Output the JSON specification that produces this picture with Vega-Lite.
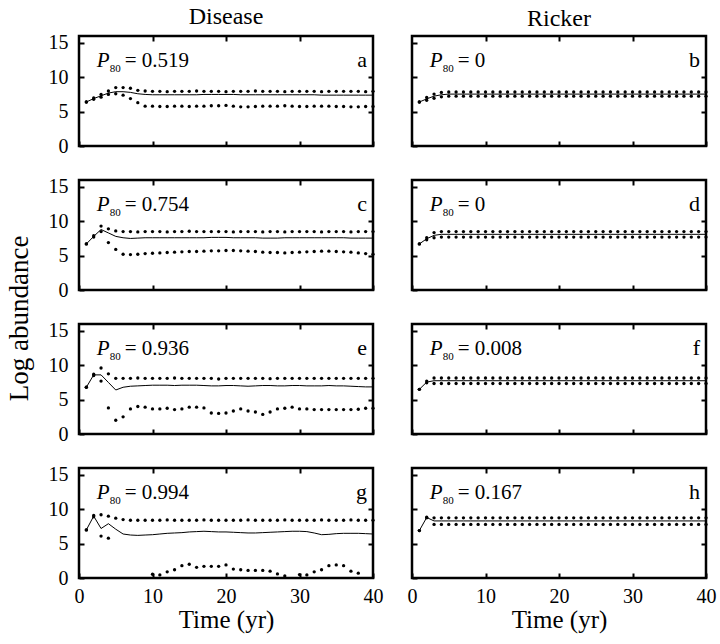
{
  "$schema": "https://vega.github.io/schema/vega-lite/v6.json",
  "background": "white",
  "padding": {"left": 5, "top": 3, "right": 5, "bottom": 3},
  "title": {"text": "Log abundance", "orient": "left", "anchor": "middle", "font": "Times New Roman, Liberation Serif, serif", "fontSize": 27, "fontWeight": "normal", "offset": 13},
  "config": {
    "font": "Times New Roman, Liberation Serif, serif",
    "view": {"stroke": "black", "strokeWidth": 2.5},
    "title": {"font": "Times New Roman, Liberation Serif, serif", "fontWeight": "normal", "fontSize": 24, "color": "black"},
    "axis": {
      "domain": false, "grid": false, "ticks": true, "tickSize": -5, "tickWidth": 2, "tickColor": "black",
      "labelFont": "Times New Roman, Liberation Serif, serif", "labelFontSize": 20, "labelColor": "black", "labelFlush": false, "labelOverlap": false,
      "titleFont": "Times New Roman, Liberation Serif, serif", "titleFontSize": 25, "titleFontWeight": "normal", "titleColor": "black", "titlePadding": 1
    },
    "axisX": {"labelPadding": 13},
    "axisY": {"labelPadding": 16},
    "line": {"color": "black", "strokeWidth": 1},
    "circle": {"color": "black", "size": 11, "opacity": 1},
    "text": {"font": "Times New Roman, Liberation Serif, serif", "color": "black", "baseline": "alphabetic", "fontSize": 21}
  },
  "datasets": {
    "notes": [
      {"p": "a", "pv": "= 0.519"}, {"p": "b", "pv": "= 0"},
      {"p": "c", "pv": "= 0.754"}, {"p": "d", "pv": "= 0"},
      {"p": "e", "pv": "= 0.936"}, {"p": "f", "pv": "= 0.008"},
      {"p": "g", "pv": "= 0.994"}, {"p": "h", "pv": "= 0.167"}
    ],
    "series": [
      {"p":"a","t":1,"m":6.4,"h":6.4,"l":6.4},{"p":"a","t":2,"m":6.9,"h":7.0,"l":6.8},{"p":"a","t":3,"m":7.3,"h":7.5,"l":7.1},{"p":"a","t":4,"m":7.7,"h":8.0,"l":7.5},
      {"p":"a","t":5,"m":7.9,"h":8.5,"l":7.6},{"p":"a","t":6,"m":7.9,"h":8.5,"l":7.4},{"p":"a","t":7,"m":7.8,"h":8.4,"l":6.9},{"p":"a","t":8,"m":7.6,"h":8.1,"l":6.3},
      {"p":"a","t":9,"m":7.5,"h":8.0,"l":5.8},{"p":"a","t":10,"m":7.45,"h":7.95,"l":5.8},{"p":"a","t":11,"m":7.45,"h":7.95,"l":5.75},{"p":"a","t":12,"m":7.45,"h":7.9,"l":5.75},
      {"p":"a","t":13,"m":7.45,"h":7.95,"l":5.8},{"p":"a","t":14,"m":7.45,"h":7.95,"l":5.8},{"p":"a","t":15,"m":7.45,"h":7.95,"l":5.75},{"p":"a","t":16,"m":7.45,"h":8.0,"l":5.8},
      {"p":"a","t":17,"m":7.5,"h":7.95,"l":5.8},{"p":"a","t":18,"m":7.5,"h":7.95,"l":5.85},{"p":"a","t":19,"m":7.5,"h":7.95,"l":5.85},{"p":"a","t":20,"m":7.5,"h":7.9,"l":5.9},
      {"p":"a","t":21,"m":7.5,"h":7.95,"l":5.8},{"p":"a","t":22,"m":7.45,"h":7.95,"l":5.7},{"p":"a","t":23,"m":7.45,"h":7.95,"l":5.7},{"p":"a","t":24,"m":7.45,"h":8.0,"l":5.75},
      {"p":"a","t":25,"m":7.45,"h":7.95,"l":5.8},{"p":"a","t":26,"m":7.45,"h":7.95,"l":5.8},{"p":"a","t":27,"m":7.45,"h":7.95,"l":5.8},{"p":"a","t":28,"m":7.45,"h":7.9,"l":5.85},
      {"p":"a","t":29,"m":7.45,"h":7.95,"l":5.8},{"p":"a","t":30,"m":7.45,"h":7.95,"l":5.75},{"p":"a","t":31,"m":7.45,"h":7.95,"l":5.75},{"p":"a","t":32,"m":7.45,"h":7.95,"l":5.8},
      {"p":"a","t":33,"m":7.4,"h":7.9,"l":5.8},{"p":"a","t":34,"m":7.4,"h":7.95,"l":5.8},{"p":"a","t":35,"m":7.4,"h":7.95,"l":5.75},{"p":"a","t":36,"m":7.4,"h":7.95,"l":5.75},
      {"p":"a","t":37,"m":7.4,"h":7.95,"l":5.7},{"p":"a","t":38,"m":7.4,"h":7.95,"l":5.7},{"p":"a","t":39,"m":7.4,"h":7.9,"l":5.75},{"p":"a","t":40,"m":7.4,"h":7.95,"l":5.75},

      {"p":"c","t":1,"m":6.7,"h":6.7,"l":6.7},{"p":"c","t":2,"m":7.8,"h":7.9,"l":7.7},{"p":"c","t":3,"m":8.8,"h":9.3,"l":8.5},{"p":"c","t":4,"m":8.3,"h":8.9,"l":6.9},
      {"p":"c","t":5,"m":7.8,"h":8.6,"l":5.9},{"p":"c","t":6,"m":7.6,"h":8.5,"l":5.2},{"p":"c","t":7,"m":7.5,"h":8.5,"l":5.15},{"p":"c","t":8,"m":7.55,"h":8.45,"l":5.2},
      {"p":"c","t":9,"m":7.6,"h":8.5,"l":5.3},{"p":"c","t":10,"m":7.6,"h":8.5,"l":5.35},{"p":"c","t":11,"m":7.6,"h":8.5,"l":5.4},{"p":"c","t":12,"m":7.6,"h":8.45,"l":5.45},
      {"p":"c","t":13,"m":7.6,"h":8.5,"l":5.5},{"p":"c","t":14,"m":7.6,"h":8.5,"l":5.55},{"p":"c","t":15,"m":7.6,"h":8.55,"l":5.6},{"p":"c","t":16,"m":7.6,"h":8.5,"l":5.6},
      {"p":"c","t":17,"m":7.6,"h":8.5,"l":5.65},{"p":"c","t":18,"m":7.65,"h":8.5,"l":5.7},{"p":"c","t":19,"m":7.65,"h":8.5,"l":5.7},{"p":"c","t":20,"m":7.65,"h":8.5,"l":5.75},
      {"p":"c","t":21,"m":7.6,"h":8.45,"l":5.75},{"p":"c","t":22,"m":7.6,"h":8.5,"l":5.7},{"p":"c","t":23,"m":7.6,"h":8.5,"l":5.65},{"p":"c","t":24,"m":7.6,"h":8.5,"l":5.6},
      {"p":"c","t":25,"m":7.55,"h":8.45,"l":5.5},{"p":"c","t":26,"m":7.55,"h":8.5,"l":5.45},{"p":"c","t":27,"m":7.55,"h":8.5,"l":5.45},{"p":"c","t":28,"m":7.6,"h":8.45,"l":5.4},
      {"p":"c","t":29,"m":7.6,"h":8.5,"l":5.45},{"p":"c","t":30,"m":7.6,"h":8.5,"l":5.5},{"p":"c","t":31,"m":7.6,"h":8.5,"l":5.55},{"p":"c","t":32,"m":7.6,"h":8.5,"l":5.6},
      {"p":"c","t":33,"m":7.6,"h":8.45,"l":5.65},{"p":"c","t":34,"m":7.6,"h":8.5,"l":5.65},{"p":"c","t":35,"m":7.6,"h":8.5,"l":5.6},{"p":"c","t":36,"m":7.6,"h":8.5,"l":5.55},
      {"p":"c","t":37,"m":7.55,"h":8.45,"l":5.5},{"p":"c","t":38,"m":7.55,"h":8.5,"l":5.4},{"p":"c","t":39,"m":7.55,"h":8.5,"l":5.3},{"p":"c","t":40,"m":7.55,"h":8.5,"l":5.2},

      {"p":"e","t":1,"m":6.8,"h":6.8,"l":6.8},{"p":"e","t":2,"m":8.6,"h":8.7,"l":8.5},{"p":"e","t":3,"m":8.6,"h":9.6,"l":7.7},{"p":"e","t":4,"m":7.5,"h":8.75,"l":3.8},
      {"p":"e","t":5,"m":6.4,"h":8.1,"l":2.0},{"p":"e","t":6,"m":6.8,"h":8.1,"l":2.5},{"p":"e","t":7,"m":6.95,"h":8.1,"l":3.65},{"p":"e","t":8,"m":7.0,"h":8.15,"l":4.0},
      {"p":"e","t":9,"m":7.05,"h":8.1,"l":3.9},{"p":"e","t":10,"m":7.1,"h":8.1,"l":3.65},{"p":"e","t":11,"m":7.1,"h":8.1,"l":3.65},{"p":"e","t":12,"m":7.1,"h":8.1,"l":3.75},
      {"p":"e","t":13,"m":7.05,"h":8.15,"l":3.55},{"p":"e","t":14,"m":7.1,"h":8.1,"l":3.65},{"p":"e","t":15,"m":7.1,"h":8.1,"l":3.9},{"p":"e","t":16,"m":7.1,"h":8.1,"l":3.9},
      {"p":"e","t":17,"m":7.05,"h":8.1,"l":3.8},{"p":"e","t":18,"m":7.0,"h":8.1,"l":3.05},{"p":"e","t":19,"m":7.0,"h":8.0,"l":3.0},{"p":"e","t":20,"m":7.05,"h":8.1,"l":3.05},
      {"p":"e","t":21,"m":7.05,"h":8.1,"l":3.35},{"p":"e","t":22,"m":7.0,"h":8.1,"l":3.65},{"p":"e","t":23,"m":6.95,"h":8.1,"l":3.35},{"p":"e","t":24,"m":7.0,"h":8.1,"l":3.2},
      {"p":"e","t":25,"m":7.05,"h":8.1,"l":2.85},{"p":"e","t":26,"m":7.05,"h":8.05,"l":3.2},{"p":"e","t":27,"m":7.0,"h":8.1,"l":3.65},{"p":"e","t":28,"m":7.0,"h":8.1,"l":3.75},
      {"p":"e","t":29,"m":7.05,"h":8.1,"l":3.9},{"p":"e","t":30,"m":7.05,"h":8.1,"l":3.65},{"p":"e","t":31,"m":7.0,"h":8.1,"l":3.65},{"p":"e","t":32,"m":7.0,"h":8.1,"l":3.55},
      {"p":"e","t":33,"m":7.0,"h":8.1,"l":3.55},{"p":"e","t":34,"m":7.05,"h":8.1,"l":3.55},{"p":"e","t":35,"m":7.0,"h":8.1,"l":3.55},{"p":"e","t":36,"m":7.0,"h":8.1,"l":3.55},
      {"p":"e","t":37,"m":6.95,"h":8.1,"l":3.55},{"p":"e","t":38,"m":6.9,"h":8.1,"l":3.6},{"p":"e","t":39,"m":6.85,"h":8.1,"l":3.75},{"p":"e","t":40,"m":6.85,"h":8.1,"l":3.75},

      {"p":"g","t":1,"m":7.0,"h":7.0,"l":7.0},{"p":"g","t":2,"m":9.0,"h":9.1,"l":8.9},{"p":"g","t":3,"m":7.2,"h":9.2,"l":6.1},{"p":"g","t":4,"m":7.9,"h":9.0,"l":5.8},
      {"p":"g","t":5,"m":7.1,"h":8.7,"l":null},{"p":"g","t":6,"m":6.4,"h":8.5,"l":null},{"p":"g","t":7,"m":6.25,"h":8.4,"l":null},{"p":"g","t":8,"m":6.2,"h":8.4,"l":null},
      {"p":"g","t":9,"m":6.25,"h":8.4,"l":null},{"p":"g","t":10,"m":6.3,"h":8.4,"l":0.55},{"p":"g","t":11,"m":6.4,"h":8.4,"l":0.45},{"p":"g","t":12,"m":6.5,"h":8.45,"l":0.9},
      {"p":"g","t":13,"m":6.55,"h":8.4,"l":1.2},{"p":"g","t":14,"m":6.6,"h":8.4,"l":1.8},{"p":"g","t":15,"m":6.7,"h":8.4,"l":2.0},{"p":"g","t":16,"m":6.75,"h":8.4,"l":1.55},
      {"p":"g","t":17,"m":6.8,"h":8.45,"l":1.7},{"p":"g","t":18,"m":6.75,"h":8.4,"l":1.7},{"p":"g","t":19,"m":6.7,"h":8.4,"l":1.7},{"p":"g","t":20,"m":6.7,"h":8.4,"l":1.9},
      {"p":"g","t":21,"m":6.65,"h":8.4,"l":1.3},{"p":"g","t":22,"m":6.6,"h":8.4,"l":1.2},{"p":"g","t":23,"m":6.55,"h":8.45,"l":1.1},{"p":"g","t":24,"m":6.55,"h":8.4,"l":1.1},
      {"p":"g","t":25,"m":6.6,"h":8.4,"l":1.1},{"p":"g","t":26,"m":6.65,"h":8.4,"l":1.0},{"p":"g","t":27,"m":6.7,"h":8.4,"l":0.6},{"p":"g","t":28,"m":6.75,"h":8.45,"l":0.3},
      {"p":"g","t":29,"m":6.8,"h":8.4,"l":null},{"p":"g","t":30,"m":6.8,"h":8.4,"l":0.5},{"p":"g","t":31,"m":6.75,"h":8.4,"l":0.45},{"p":"g","t":32,"m":6.55,"h":8.4,"l":0.9},
      {"p":"g","t":33,"m":6.3,"h":8.45,"l":1.2},{"p":"g","t":34,"m":6.35,"h":8.4,"l":1.8},{"p":"g","t":35,"m":6.45,"h":8.4,"l":1.9},{"p":"g","t":36,"m":6.5,"h":8.4,"l":1.8},
      {"p":"g","t":37,"m":6.5,"h":8.45,"l":1.0},{"p":"g","t":38,"m":6.5,"h":8.4,"l":0.7},{"p":"g","t":39,"m":6.45,"h":8.4,"l":null},{"p":"g","t":40,"m":6.4,"h":8.4,"l":null},

      {"p":"b","t":1,"m":6.4,"h":6.4,"l":6.4},{"p":"b","t":2,"m":6.85,"h":7.05,"l":6.65},{"p":"b","t":3,"m":7.25,"h":7.55,"l":6.95},{"p":"b","t":4,"m":7.45,"h":7.8,"l":7.15},
      {"p":"b","t":5,"m":7.55,"h":7.85,"l":7.25},{"p":"b","t":6,"m":7.55,"h":7.85,"l":7.25},{"p":"b","t":7,"m":7.55,"h":7.85,"l":7.25},{"p":"b","t":8,"m":7.55,"h":7.85,"l":7.25},
      {"p":"b","t":9,"m":7.55,"h":7.85,"l":7.25},{"p":"b","t":10,"m":7.55,"h":7.85,"l":7.25},{"p":"b","t":11,"m":7.55,"h":7.85,"l":7.25},{"p":"b","t":12,"m":7.55,"h":7.85,"l":7.25},
      {"p":"b","t":13,"m":7.55,"h":7.85,"l":7.25},{"p":"b","t":14,"m":7.55,"h":7.85,"l":7.25},{"p":"b","t":15,"m":7.55,"h":7.85,"l":7.25},{"p":"b","t":16,"m":7.55,"h":7.85,"l":7.25},
      {"p":"b","t":17,"m":7.55,"h":7.85,"l":7.25},{"p":"b","t":18,"m":7.55,"h":7.85,"l":7.25},{"p":"b","t":19,"m":7.55,"h":7.85,"l":7.25},{"p":"b","t":20,"m":7.55,"h":7.85,"l":7.25},
      {"p":"b","t":21,"m":7.55,"h":7.85,"l":7.25},{"p":"b","t":22,"m":7.55,"h":7.85,"l":7.25},{"p":"b","t":23,"m":7.55,"h":7.85,"l":7.25},{"p":"b","t":24,"m":7.55,"h":7.85,"l":7.25},
      {"p":"b","t":25,"m":7.55,"h":7.85,"l":7.25},{"p":"b","t":26,"m":7.55,"h":7.85,"l":7.25},{"p":"b","t":27,"m":7.55,"h":7.85,"l":7.25},{"p":"b","t":28,"m":7.55,"h":7.85,"l":7.25},
      {"p":"b","t":29,"m":7.55,"h":7.85,"l":7.25},{"p":"b","t":30,"m":7.55,"h":7.85,"l":7.25},{"p":"b","t":31,"m":7.55,"h":7.85,"l":7.25},{"p":"b","t":32,"m":7.55,"h":7.85,"l":7.25},
      {"p":"b","t":33,"m":7.55,"h":7.85,"l":7.25},{"p":"b","t":34,"m":7.55,"h":7.85,"l":7.25},{"p":"b","t":35,"m":7.55,"h":7.85,"l":7.25},{"p":"b","t":36,"m":7.55,"h":7.85,"l":7.25},
      {"p":"b","t":37,"m":7.55,"h":7.85,"l":7.25},{"p":"b","t":38,"m":7.55,"h":7.85,"l":7.25},{"p":"b","t":39,"m":7.55,"h":7.85,"l":7.25},{"p":"b","t":40,"m":7.55,"h":7.85,"l":7.25},

      {"p":"d","t":1,"m":6.7,"h":6.7,"l":6.7},{"p":"d","t":2,"m":7.45,"h":7.6,"l":7.3},{"p":"d","t":3,"m":7.95,"h":8.35,"l":7.6},{"p":"d","t":4,"m":8.1,"h":8.5,"l":7.7},
      {"p":"d","t":5,"m":8.1,"h":8.5,"l":7.7},{"p":"d","t":6,"m":8.1,"h":8.5,"l":7.7},{"p":"d","t":7,"m":8.1,"h":8.5,"l":7.7},{"p":"d","t":8,"m":8.1,"h":8.5,"l":7.7},
      {"p":"d","t":9,"m":8.1,"h":8.5,"l":7.7},{"p":"d","t":10,"m":8.1,"h":8.5,"l":7.7},{"p":"d","t":11,"m":8.1,"h":8.5,"l":7.7},{"p":"d","t":12,"m":8.1,"h":8.5,"l":7.7},
      {"p":"d","t":13,"m":8.1,"h":8.5,"l":7.7},{"p":"d","t":14,"m":8.1,"h":8.5,"l":7.7},{"p":"d","t":15,"m":8.1,"h":8.5,"l":7.7},{"p":"d","t":16,"m":8.1,"h":8.5,"l":7.7},
      {"p":"d","t":17,"m":8.1,"h":8.5,"l":7.7},{"p":"d","t":18,"m":8.1,"h":8.5,"l":7.7},{"p":"d","t":19,"m":8.1,"h":8.5,"l":7.7},{"p":"d","t":20,"m":8.1,"h":8.5,"l":7.7},
      {"p":"d","t":21,"m":8.1,"h":8.5,"l":7.7},{"p":"d","t":22,"m":8.1,"h":8.5,"l":7.7},{"p":"d","t":23,"m":8.1,"h":8.5,"l":7.7},{"p":"d","t":24,"m":8.1,"h":8.5,"l":7.7},
      {"p":"d","t":25,"m":8.1,"h":8.5,"l":7.7},{"p":"d","t":26,"m":8.1,"h":8.5,"l":7.7},{"p":"d","t":27,"m":8.1,"h":8.5,"l":7.7},{"p":"d","t":28,"m":8.1,"h":8.5,"l":7.7},
      {"p":"d","t":29,"m":8.1,"h":8.5,"l":7.7},{"p":"d","t":30,"m":8.1,"h":8.5,"l":7.7},{"p":"d","t":31,"m":8.1,"h":8.5,"l":7.7},{"p":"d","t":32,"m":8.1,"h":8.5,"l":7.7},
      {"p":"d","t":33,"m":8.1,"h":8.5,"l":7.7},{"p":"d","t":34,"m":8.1,"h":8.5,"l":7.7},{"p":"d","t":35,"m":8.1,"h":8.5,"l":7.7},{"p":"d","t":36,"m":8.1,"h":8.5,"l":7.7},
      {"p":"d","t":37,"m":8.1,"h":8.5,"l":7.7},{"p":"d","t":38,"m":8.1,"h":8.5,"l":7.7},{"p":"d","t":39,"m":8.1,"h":8.5,"l":7.7},{"p":"d","t":40,"m":8.1,"h":8.5,"l":7.7},

      {"p":"f","t":1,"m":6.5,"h":6.5,"l":6.5},{"p":"f","t":2,"m":7.55,"h":7.7,"l":7.45},{"p":"f","t":3,"m":7.75,"h":8.15,"l":7.35},{"p":"f","t":4,"m":7.75,"h":8.15,"l":7.35},
      {"p":"f","t":5,"m":7.75,"h":8.15,"l":7.35},{"p":"f","t":6,"m":7.75,"h":8.15,"l":7.35},{"p":"f","t":7,"m":7.75,"h":8.15,"l":7.35},{"p":"f","t":8,"m":7.75,"h":8.15,"l":7.35},
      {"p":"f","t":9,"m":7.75,"h":8.15,"l":7.35},{"p":"f","t":10,"m":7.75,"h":8.15,"l":7.35},{"p":"f","t":11,"m":7.75,"h":8.15,"l":7.35},{"p":"f","t":12,"m":7.75,"h":8.15,"l":7.35},
      {"p":"f","t":13,"m":7.75,"h":8.15,"l":7.35},{"p":"f","t":14,"m":7.75,"h":8.15,"l":7.35},{"p":"f","t":15,"m":7.75,"h":8.15,"l":7.35},{"p":"f","t":16,"m":7.75,"h":8.15,"l":7.35},
      {"p":"f","t":17,"m":7.75,"h":8.15,"l":7.35},{"p":"f","t":18,"m":7.75,"h":8.15,"l":7.35},{"p":"f","t":19,"m":7.75,"h":8.15,"l":7.35},{"p":"f","t":20,"m":7.75,"h":8.15,"l":7.35},
      {"p":"f","t":21,"m":7.75,"h":8.15,"l":7.35},{"p":"f","t":22,"m":7.75,"h":8.15,"l":7.35},{"p":"f","t":23,"m":7.75,"h":8.15,"l":7.35},{"p":"f","t":24,"m":7.75,"h":8.15,"l":7.35},
      {"p":"f","t":25,"m":7.75,"h":8.15,"l":7.35},{"p":"f","t":26,"m":7.75,"h":8.15,"l":7.35},{"p":"f","t":27,"m":7.75,"h":8.15,"l":7.35},{"p":"f","t":28,"m":7.75,"h":8.15,"l":7.35},
      {"p":"f","t":29,"m":7.75,"h":8.15,"l":7.35},{"p":"f","t":30,"m":7.75,"h":8.15,"l":7.35},{"p":"f","t":31,"m":7.75,"h":8.15,"l":7.35},{"p":"f","t":32,"m":7.75,"h":8.15,"l":7.35},
      {"p":"f","t":33,"m":7.75,"h":8.15,"l":7.35},{"p":"f","t":34,"m":7.75,"h":8.15,"l":7.35},{"p":"f","t":35,"m":7.75,"h":8.15,"l":7.35},{"p":"f","t":36,"m":7.75,"h":8.15,"l":7.35},
      {"p":"f","t":37,"m":7.75,"h":8.15,"l":7.35},{"p":"f","t":38,"m":7.75,"h":8.15,"l":7.35},{"p":"f","t":39,"m":7.75,"h":8.15,"l":7.35},{"p":"f","t":40,"m":7.75,"h":8.15,"l":7.35},

      {"p":"h","t":1,"m":6.9,"h":6.9,"l":6.9},{"p":"h","t":2,"m":8.8,"h":8.85,"l":8.75},{"p":"h","t":3,"m":8.3,"h":8.75,"l":7.8},{"p":"h","t":4,"m":8.3,"h":8.75,"l":7.8},
      {"p":"h","t":5,"m":8.3,"h":8.75,"l":7.8},{"p":"h","t":6,"m":8.3,"h":8.75,"l":7.8},{"p":"h","t":7,"m":8.3,"h":8.75,"l":7.8},{"p":"h","t":8,"m":8.3,"h":8.75,"l":7.8},
      {"p":"h","t":9,"m":8.3,"h":8.75,"l":7.8},{"p":"h","t":10,"m":8.3,"h":8.75,"l":7.8},{"p":"h","t":11,"m":8.3,"h":8.75,"l":7.8},{"p":"h","t":12,"m":8.3,"h":8.75,"l":7.8},
      {"p":"h","t":13,"m":8.3,"h":8.75,"l":7.8},{"p":"h","t":14,"m":8.3,"h":8.75,"l":7.8},{"p":"h","t":15,"m":8.3,"h":8.75,"l":7.8},{"p":"h","t":16,"m":8.3,"h":8.75,"l":7.8},
      {"p":"h","t":17,"m":8.3,"h":8.75,"l":7.8},{"p":"h","t":18,"m":8.3,"h":8.75,"l":7.8},{"p":"h","t":19,"m":8.3,"h":8.75,"l":7.8},{"p":"h","t":20,"m":8.3,"h":8.75,"l":7.8},
      {"p":"h","t":21,"m":8.3,"h":8.75,"l":7.8},{"p":"h","t":22,"m":8.3,"h":8.75,"l":7.8},{"p":"h","t":23,"m":8.3,"h":8.75,"l":7.8},{"p":"h","t":24,"m":8.3,"h":8.75,"l":7.8},
      {"p":"h","t":25,"m":8.3,"h":8.75,"l":7.8},{"p":"h","t":26,"m":8.3,"h":8.75,"l":7.8},{"p":"h","t":27,"m":8.3,"h":8.75,"l":7.8},{"p":"h","t":28,"m":8.3,"h":8.75,"l":7.8},
      {"p":"h","t":29,"m":8.3,"h":8.75,"l":7.8},{"p":"h","t":30,"m":8.3,"h":8.75,"l":7.8},{"p":"h","t":31,"m":8.3,"h":8.75,"l":7.8},{"p":"h","t":32,"m":8.3,"h":8.75,"l":7.8},
      {"p":"h","t":33,"m":8.3,"h":8.75,"l":7.8},{"p":"h","t":34,"m":8.3,"h":8.75,"l":7.8},{"p":"h","t":35,"m":8.3,"h":8.75,"l":7.8},{"p":"h","t":36,"m":8.3,"h":8.75,"l":7.8},
      {"p":"h","t":37,"m":8.3,"h":8.75,"l":7.8},{"p":"h","t":38,"m":8.3,"h":8.75,"l":7.8},{"p":"h","t":39,"m":8.3,"h":8.75,"l":7.8},{"p":"h","t":40,"m":8.3,"h":8.75,"l":7.8}
    ]
  },
  "spacing": 17,
  "vconcat": [
    {"bounds": "flush", "spacing": 39, "hconcat": [
      {"width": 294, "height": 110, "title": {"text": "Disease", "anchor": "middle", "offset": 4},
       "resolve": {"axis": {"x": "independent", "y": "independent"}},
       "layer": [
        {"data": {"name": "series"}, "transform": [{"filter": "datum.p === 'a'"}], "mark": "line",
         "encoding": {"x": {"field": "t", "type": "quantitative", "scale": {"domain": [0, 40]}, "axis": {"orient": "bottom", "values": [0, 10, 20, 30, 40], "labels": false, "title": null}},
                      "y": {"field": "m", "type": "quantitative", "scale": {"domain": [0, 15]}, "axis": {"orient": "left", "values": [0, 5, 10, 15], "labels": true, "title": null}}}},
        {"data": {"name": "series"}, "transform": [{"filter": "datum.p === 'a'"}, {"fold": ["h", "l"], "as": ["bound", "v"]}], "mark": "circle",
         "encoding": {"x": {"field": "t", "type": "quantitative", "axis": {"orient": "top", "values": [10, 20, 30], "labels": false, "title": null}},
                      "y": {"field": "v", "type": "quantitative", "axis": {"orient": "right", "values": [5, 10], "labels": false, "title": null}}}},
        {"data": {"name": "notes"}, "transform": [{"filter": "datum.p === 'a'"}], "mark": {"type": "text", "text": "P", "fontStyle": "italic", "align": "left"},
         "encoding": {"x": {"datum": 2.4, "type": "quantitative", "axis": null}, "y": {"datum": 11.5, "type": "quantitative", "axis": null}}},
        {"data": {"name": "notes"}, "transform": [{"filter": "datum.p === 'a'"}], "mark": {"type": "text", "text": "80", "fontSize": 11, "align": "left", "dx": 13, "dy": 5},
         "encoding": {"x": {"datum": 2.4, "type": "quantitative", "axis": null}, "y": {"datum": 11.5, "type": "quantitative", "axis": null}}},
        {"data": {"name": "notes"}, "transform": [{"filter": "datum.p === 'a'"}], "mark": {"type": "text", "align": "left", "dx": 28},
         "encoding": {"x": {"datum": 2.4, "type": "quantitative", "axis": null}, "y": {"datum": 11.5, "type": "quantitative", "axis": null}, "text": {"field": "pv"}}},
        {"data": {"name": "notes"}, "transform": [{"filter": "datum.p === 'a'"}], "mark": {"type": "text", "fontSize": 22, "align": "right", "dx": -6},
         "encoding": {"x": {"datum": 40, "type": "quantitative", "axis": null}, "y": {"datum": 11.5, "type": "quantitative", "axis": null}, "text": {"field": "p"}}}
       ]},
      {"width": 294, "height": 110, "title": {"text": "Ricker", "anchor": "middle", "offset": 4},
       "resolve": {"axis": {"x": "independent", "y": "independent"}},
       "layer": [
        {"data": {"name": "series"}, "transform": [{"filter": "datum.p === 'b'"}], "mark": "line",
         "encoding": {"x": {"field": "t", "type": "quantitative", "scale": {"domain": [0, 40]}, "axis": {"orient": "bottom", "values": [0, 10, 20, 30, 40], "labels": false, "title": null}},
                      "y": {"field": "m", "type": "quantitative", "scale": {"domain": [0, 15]}, "axis": {"orient": "left", "values": [0, 5, 10, 15], "labels": false, "title": null}}}},
        {"data": {"name": "series"}, "transform": [{"filter": "datum.p === 'b'"}, {"fold": ["h", "l"], "as": ["bound", "v"]}], "mark": "circle",
         "encoding": {"x": {"field": "t", "type": "quantitative", "axis": {"orient": "top", "values": [10, 20, 30], "labels": false, "title": null}},
                      "y": {"field": "v", "type": "quantitative", "axis": {"orient": "right", "values": [5, 10], "labels": false, "title": null}}}},
        {"data": {"name": "notes"}, "transform": [{"filter": "datum.p === 'b'"}], "mark": {"type": "text", "text": "P", "fontStyle": "italic", "align": "left"},
         "encoding": {"x": {"datum": 2.4, "type": "quantitative", "axis": null}, "y": {"datum": 11.5, "type": "quantitative", "axis": null}}},
        {"data": {"name": "notes"}, "transform": [{"filter": "datum.p === 'b'"}], "mark": {"type": "text", "text": "80", "fontSize": 11, "align": "left", "dx": 13, "dy": 5},
         "encoding": {"x": {"datum": 2.4, "type": "quantitative", "axis": null}, "y": {"datum": 11.5, "type": "quantitative", "axis": null}}},
        {"data": {"name": "notes"}, "transform": [{"filter": "datum.p === 'b'"}], "mark": {"type": "text", "align": "left", "dx": 28},
         "encoding": {"x": {"datum": 2.4, "type": "quantitative", "axis": null}, "y": {"datum": 11.5, "type": "quantitative", "axis": null}, "text": {"field": "pv"}}},
        {"data": {"name": "notes"}, "transform": [{"filter": "datum.p === 'b'"}], "mark": {"type": "text", "fontSize": 22, "align": "right", "dx": -6},
         "encoding": {"x": {"datum": 40, "type": "quantitative", "axis": null}, "y": {"datum": 11.5, "type": "quantitative", "axis": null}, "text": {"field": "p"}}}
       ]}
    ]},
    {"bounds": "flush", "spacing": 39, "hconcat": [
      {"width": 294, "height": 110,
       "resolve": {"axis": {"x": "independent", "y": "independent"}},
       "layer": [
        {"data": {"name": "series"}, "transform": [{"filter": "datum.p === 'c'"}], "mark": "line",
         "encoding": {"x": {"field": "t", "type": "quantitative", "scale": {"domain": [0, 40]}, "axis": {"orient": "bottom", "values": [0, 10, 20, 30, 40], "labels": false, "title": null}},
                      "y": {"field": "m", "type": "quantitative", "scale": {"domain": [0, 15]}, "axis": {"orient": "left", "values": [0, 5, 10, 15], "labels": true, "title": null}}}},
        {"data": {"name": "series"}, "transform": [{"filter": "datum.p === 'c'"}, {"fold": ["h", "l"], "as": ["bound", "v"]}], "mark": "circle",
         "encoding": {"x": {"field": "t", "type": "quantitative", "axis": {"orient": "top", "values": [10, 20, 30], "labels": false, "title": null}},
                      "y": {"field": "v", "type": "quantitative", "axis": {"orient": "right", "values": [5, 10], "labels": false, "title": null}}}},
        {"data": {"name": "notes"}, "transform": [{"filter": "datum.p === 'c'"}], "mark": {"type": "text", "text": "P", "fontStyle": "italic", "align": "left"},
         "encoding": {"x": {"datum": 2.4, "type": "quantitative", "axis": null}, "y": {"datum": 11.5, "type": "quantitative", "axis": null}}},
        {"data": {"name": "notes"}, "transform": [{"filter": "datum.p === 'c'"}], "mark": {"type": "text", "text": "80", "fontSize": 11, "align": "left", "dx": 13, "dy": 5},
         "encoding": {"x": {"datum": 2.4, "type": "quantitative", "axis": null}, "y": {"datum": 11.5, "type": "quantitative", "axis": null}}},
        {"data": {"name": "notes"}, "transform": [{"filter": "datum.p === 'c'"}], "mark": {"type": "text", "align": "left", "dx": 28},
         "encoding": {"x": {"datum": 2.4, "type": "quantitative", "axis": null}, "y": {"datum": 11.5, "type": "quantitative", "axis": null}, "text": {"field": "pv"}}},
        {"data": {"name": "notes"}, "transform": [{"filter": "datum.p === 'c'"}], "mark": {"type": "text", "fontSize": 22, "align": "right", "dx": -6},
         "encoding": {"x": {"datum": 40, "type": "quantitative", "axis": null}, "y": {"datum": 11.5, "type": "quantitative", "axis": null}, "text": {"field": "p"}}}
       ]},
      {"width": 294, "height": 110,
       "resolve": {"axis": {"x": "independent", "y": "independent"}},
       "layer": [
        {"data": {"name": "series"}, "transform": [{"filter": "datum.p === 'd'"}], "mark": "line",
         "encoding": {"x": {"field": "t", "type": "quantitative", "scale": {"domain": [0, 40]}, "axis": {"orient": "bottom", "values": [0, 10, 20, 30, 40], "labels": false, "title": null}},
                      "y": {"field": "m", "type": "quantitative", "scale": {"domain": [0, 15]}, "axis": {"orient": "left", "values": [0, 5, 10, 15], "labels": false, "title": null}}}},
        {"data": {"name": "series"}, "transform": [{"filter": "datum.p === 'd'"}, {"fold": ["h", "l"], "as": ["bound", "v"]}], "mark": "circle",
         "encoding": {"x": {"field": "t", "type": "quantitative", "axis": {"orient": "top", "values": [10, 20, 30], "labels": false, "title": null}},
                      "y": {"field": "v", "type": "quantitative", "axis": {"orient": "right", "values": [5, 10], "labels": false, "title": null}}}},
        {"data": {"name": "notes"}, "transform": [{"filter": "datum.p === 'd'"}], "mark": {"type": "text", "text": "P", "fontStyle": "italic", "align": "left"},
         "encoding": {"x": {"datum": 2.4, "type": "quantitative", "axis": null}, "y": {"datum": 11.5, "type": "quantitative", "axis": null}}},
        {"data": {"name": "notes"}, "transform": [{"filter": "datum.p === 'd'"}], "mark": {"type": "text", "text": "80", "fontSize": 11, "align": "left", "dx": 13, "dy": 5},
         "encoding": {"x": {"datum": 2.4, "type": "quantitative", "axis": null}, "y": {"datum": 11.5, "type": "quantitative", "axis": null}}},
        {"data": {"name": "notes"}, "transform": [{"filter": "datum.p === 'd'"}], "mark": {"type": "text", "align": "left", "dx": 28},
         "encoding": {"x": {"datum": 2.4, "type": "quantitative", "axis": null}, "y": {"datum": 11.5, "type": "quantitative", "axis": null}, "text": {"field": "pv"}}},
        {"data": {"name": "notes"}, "transform": [{"filter": "datum.p === 'd'"}], "mark": {"type": "text", "fontSize": 22, "align": "right", "dx": -6},
         "encoding": {"x": {"datum": 40, "type": "quantitative", "axis": null}, "y": {"datum": 11.5, "type": "quantitative", "axis": null}, "text": {"field": "p"}}}
       ]}
    ]},
    {"bounds": "flush", "spacing": 39, "hconcat": [
      {"width": 294, "height": 110,
       "resolve": {"axis": {"x": "independent", "y": "independent"}},
       "layer": [
        {"data": {"name": "series"}, "transform": [{"filter": "datum.p === 'e'"}], "mark": "line",
         "encoding": {"x": {"field": "t", "type": "quantitative", "scale": {"domain": [0, 40]}, "axis": {"orient": "bottom", "values": [0, 10, 20, 30, 40], "labels": false, "title": null}},
                      "y": {"field": "m", "type": "quantitative", "scale": {"domain": [0, 15]}, "axis": {"orient": "left", "values": [0, 5, 10, 15], "labels": true, "title": null}}}},
        {"data": {"name": "series"}, "transform": [{"filter": "datum.p === 'e'"}, {"fold": ["h", "l"], "as": ["bound", "v"]}], "mark": "circle",
         "encoding": {"x": {"field": "t", "type": "quantitative", "axis": {"orient": "top", "values": [10, 20, 30], "labels": false, "title": null}},
                      "y": {"field": "v", "type": "quantitative", "axis": {"orient": "right", "values": [5, 10], "labels": false, "title": null}}}},
        {"data": {"name": "notes"}, "transform": [{"filter": "datum.p === 'e'"}], "mark": {"type": "text", "text": "P", "fontStyle": "italic", "align": "left"},
         "encoding": {"x": {"datum": 2.4, "type": "quantitative", "axis": null}, "y": {"datum": 11.5, "type": "quantitative", "axis": null}}},
        {"data": {"name": "notes"}, "transform": [{"filter": "datum.p === 'e'"}], "mark": {"type": "text", "text": "80", "fontSize": 11, "align": "left", "dx": 13, "dy": 5},
         "encoding": {"x": {"datum": 2.4, "type": "quantitative", "axis": null}, "y": {"datum": 11.5, "type": "quantitative", "axis": null}}},
        {"data": {"name": "notes"}, "transform": [{"filter": "datum.p === 'e'"}], "mark": {"type": "text", "align": "left", "dx": 28},
         "encoding": {"x": {"datum": 2.4, "type": "quantitative", "axis": null}, "y": {"datum": 11.5, "type": "quantitative", "axis": null}, "text": {"field": "pv"}}},
        {"data": {"name": "notes"}, "transform": [{"filter": "datum.p === 'e'"}], "mark": {"type": "text", "fontSize": 22, "align": "right", "dx": -6},
         "encoding": {"x": {"datum": 40, "type": "quantitative", "axis": null}, "y": {"datum": 11.5, "type": "quantitative", "axis": null}, "text": {"field": "p"}}}
       ]},
      {"width": 294, "height": 110,
       "resolve": {"axis": {"x": "independent", "y": "independent"}},
       "layer": [
        {"data": {"name": "series"}, "transform": [{"filter": "datum.p === 'f'"}], "mark": "line",
         "encoding": {"x": {"field": "t", "type": "quantitative", "scale": {"domain": [0, 40]}, "axis": {"orient": "bottom", "values": [0, 10, 20, 30, 40], "labels": false, "title": null}},
                      "y": {"field": "m", "type": "quantitative", "scale": {"domain": [0, 15]}, "axis": {"orient": "left", "values": [0, 5, 10, 15], "labels": false, "title": null}}}},
        {"data": {"name": "series"}, "transform": [{"filter": "datum.p === 'f'"}, {"fold": ["h", "l"], "as": ["bound", "v"]}], "mark": "circle",
         "encoding": {"x": {"field": "t", "type": "quantitative", "axis": {"orient": "top", "values": [10, 20, 30], "labels": false, "title": null}},
                      "y": {"field": "v", "type": "quantitative", "axis": {"orient": "right", "values": [5, 10], "labels": false, "title": null}}}},
        {"data": {"name": "notes"}, "transform": [{"filter": "datum.p === 'f'"}], "mark": {"type": "text", "text": "P", "fontStyle": "italic", "align": "left"},
         "encoding": {"x": {"datum": 2.4, "type": "quantitative", "axis": null}, "y": {"datum": 11.5, "type": "quantitative", "axis": null}}},
        {"data": {"name": "notes"}, "transform": [{"filter": "datum.p === 'f'"}], "mark": {"type": "text", "text": "80", "fontSize": 11, "align": "left", "dx": 13, "dy": 5},
         "encoding": {"x": {"datum": 2.4, "type": "quantitative", "axis": null}, "y": {"datum": 11.5, "type": "quantitative", "axis": null}}},
        {"data": {"name": "notes"}, "transform": [{"filter": "datum.p === 'f'"}], "mark": {"type": "text", "align": "left", "dx": 28},
         "encoding": {"x": {"datum": 2.4, "type": "quantitative", "axis": null}, "y": {"datum": 11.5, "type": "quantitative", "axis": null}, "text": {"field": "pv"}}},
        {"data": {"name": "notes"}, "transform": [{"filter": "datum.p === 'f'"}], "mark": {"type": "text", "fontSize": 22, "align": "right", "dx": -6},
         "encoding": {"x": {"datum": 40, "type": "quantitative", "axis": null}, "y": {"datum": 11.5, "type": "quantitative", "axis": null}, "text": {"field": "p"}}}
       ]}
    ]},
    {"bounds": "flush", "spacing": 39, "hconcat": [
      {"width": 294, "height": 110,
       "resolve": {"axis": {"x": "independent", "y": "independent"}},
       "layer": [
        {"data": {"name": "series"}, "transform": [{"filter": "datum.p === 'g'"}], "mark": "line",
         "encoding": {"x": {"field": "t", "type": "quantitative", "scale": {"domain": [0, 40]}, "axis": {"orient": "bottom", "values": [0, 10, 20, 30, 40], "labels": true, "title": "Time (yr)", "titleFontWeight": "normal"}},
                      "y": {"field": "m", "type": "quantitative", "scale": {"domain": [0, 15]}, "axis": {"orient": "left", "values": [0, 5, 10, 15], "labels": true, "title": null}}}},
        {"data": {"name": "series"}, "transform": [{"filter": "datum.p === 'g'"}, {"fold": ["h", "l"], "as": ["bound", "v"]}], "mark": "circle",
         "encoding": {"x": {"field": "t", "type": "quantitative", "axis": {"orient": "top", "values": [10, 20, 30], "labels": false, "title": null}},
                      "y": {"field": "v", "type": "quantitative", "axis": {"orient": "right", "values": [5, 10], "labels": false, "title": null}}}},
        {"data": {"name": "notes"}, "transform": [{"filter": "datum.p === 'g'"}], "mark": {"type": "text", "text": "P", "fontStyle": "italic", "align": "left"},
         "encoding": {"x": {"datum": 2.4, "type": "quantitative", "axis": null}, "y": {"datum": 11.5, "type": "quantitative", "axis": null}}},
        {"data": {"name": "notes"}, "transform": [{"filter": "datum.p === 'g'"}], "mark": {"type": "text", "text": "80", "fontSize": 11, "align": "left", "dx": 13, "dy": 5},
         "encoding": {"x": {"datum": 2.4, "type": "quantitative", "axis": null}, "y": {"datum": 11.5, "type": "quantitative", "axis": null}}},
        {"data": {"name": "notes"}, "transform": [{"filter": "datum.p === 'g'"}], "mark": {"type": "text", "align": "left", "dx": 28},
         "encoding": {"x": {"datum": 2.4, "type": "quantitative", "axis": null}, "y": {"datum": 11.5, "type": "quantitative", "axis": null}, "text": {"field": "pv"}}},
        {"data": {"name": "notes"}, "transform": [{"filter": "datum.p === 'g'"}], "mark": {"type": "text", "fontSize": 22, "align": "right", "dx": -6},
         "encoding": {"x": {"datum": 40, "type": "quantitative", "axis": null}, "y": {"datum": 11.5, "type": "quantitative", "axis": null}, "text": {"field": "p"}}}
       ]},
      {"width": 294, "height": 110,
       "resolve": {"axis": {"x": "independent", "y": "independent"}},
       "layer": [
        {"data": {"name": "series"}, "transform": [{"filter": "datum.p === 'h'"}], "mark": "line",
         "encoding": {"x": {"field": "t", "type": "quantitative", "scale": {"domain": [0, 40]}, "axis": {"orient": "bottom", "values": [0, 10, 20, 30, 40], "labels": true, "title": "Time (yr)", "titleFontWeight": "normal"}},
                      "y": {"field": "m", "type": "quantitative", "scale": {"domain": [0, 15]}, "axis": {"orient": "left", "values": [0, 5, 10, 15], "labels": false, "title": null}}}},
        {"data": {"name": "series"}, "transform": [{"filter": "datum.p === 'h'"}, {"fold": ["h", "l"], "as": ["bound", "v"]}], "mark": "circle",
         "encoding": {"x": {"field": "t", "type": "quantitative", "axis": {"orient": "top", "values": [10, 20, 30], "labels": false, "title": null}},
                      "y": {"field": "v", "type": "quantitative", "axis": {"orient": "right", "values": [5, 10], "labels": false, "title": null}}}},
        {"data": {"name": "notes"}, "transform": [{"filter": "datum.p === 'h'"}], "mark": {"type": "text", "text": "P", "fontStyle": "italic", "align": "left"},
         "encoding": {"x": {"datum": 2.4, "type": "quantitative", "axis": null}, "y": {"datum": 11.5, "type": "quantitative", "axis": null}}},
        {"data": {"name": "notes"}, "transform": [{"filter": "datum.p === 'h'"}], "mark": {"type": "text", "text": "80", "fontSize": 11, "align": "left", "dx": 13, "dy": 5},
         "encoding": {"x": {"datum": 2.4, "type": "quantitative", "axis": null}, "y": {"datum": 11.5, "type": "quantitative", "axis": null}}},
        {"data": {"name": "notes"}, "transform": [{"filter": "datum.p === 'h'"}], "mark": {"type": "text", "align": "left", "dx": 28},
         "encoding": {"x": {"datum": 2.4, "type": "quantitative", "axis": null}, "y": {"datum": 11.5, "type": "quantitative", "axis": null}, "text": {"field": "pv"}}},
        {"data": {"name": "notes"}, "transform": [{"filter": "datum.p === 'h'"}], "mark": {"type": "text", "fontSize": 22, "align": "right", "dx": -6},
         "encoding": {"x": {"datum": 40, "type": "quantitative", "axis": null}, "y": {"datum": 11.5, "type": "quantitative", "axis": null}, "text": {"field": "p"}}}
       ]}
    ]}
  ]
}
